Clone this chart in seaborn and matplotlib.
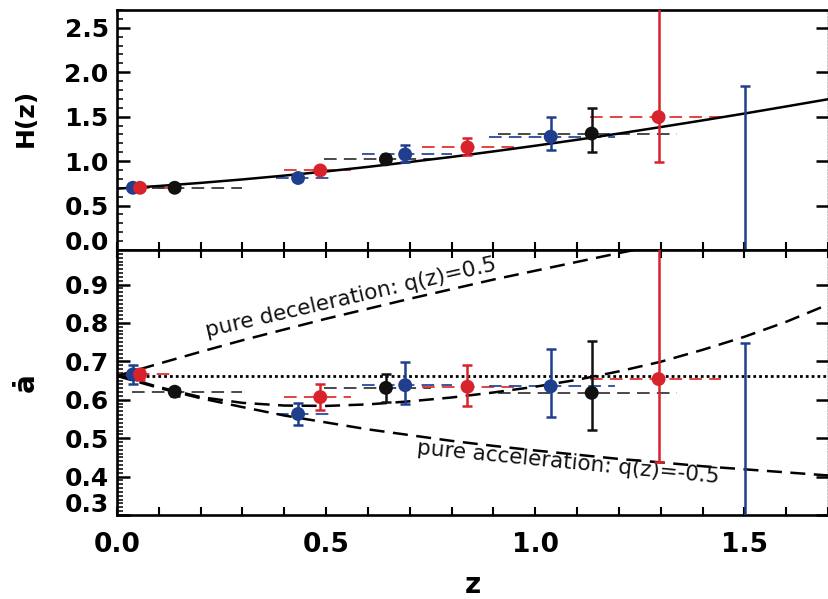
import numpy as np
import pandas as pd
import matplotlib
matplotlib.use("Agg")
import matplotlib.pyplot as plt
import matplotlib.transforms as mtransforms
from matplotlib.ticker import MultipleLocator, FixedLocator
import seaborn as sns

# ---- measurements: redshift bins from three surveys ----
survey = ["blue", "red", "black", "blue", "red", "black",
          "blue", "red", "blue", "black", "red", "blue"]
z_pts = [0.038, 0.055, 0.138, 0.433, 0.486, 0.643,
         0.689, 0.838, 1.037, 1.135, 1.295, 1.502]
bin_lo = [0.015, 0.0, 0.035, 0.38, 0.40, 0.495,
          0.585, 0.73, 0.89, 0.91, 1.13, np.nan]
bin_hi = [0.075, 0.13, 0.30, 0.51, 0.56, 0.75,
          0.80, 0.95, 1.19, 1.34, 1.445, np.nan]
show_marker = [True] * 11 + [False]

# Hubble rate H(z)
H_val = [0.70, 0.70, 0.70, 0.81, 0.895, 1.02, 1.075, 1.155, 1.275, 1.31, 1.495, 1.55]
H_lo = [0.02, 0.02, 0.02, 0.03, 0.03, 0.04, 0.09, 0.09, 0.15, 0.21, 0.50, 1.65]
H_hi = [0.02, 0.02, 0.02, 0.03, 0.03, 0.04, 0.105, 0.11, 0.22, 0.29, 1.40, 0.30]

# expansion velocity a-dot
ad_val = [0.666, 0.666, 0.621, 0.563, 0.607, 0.631, 0.638, 0.634, 0.635, 0.618, 0.654, 0.62]
ad_lo = [0.025, 0.015, 0.01, 0.028, 0.033, 0.036, 0.048, 0.051, 0.08, 0.097, 0.217, 0.40]
ad_hi = [0.025, 0.015, 0.01, 0.029, 0.033, 0.037, 0.061, 0.057, 0.097, 0.134, 0.50, 0.128]

# ---- model curves ----
z_grid = [0.0, 0.1, 0.2, 0.3, 0.4, 0.5, 0.6, 0.7, 0.8, 0.9,
          1.0, 1.1, 1.2, 1.3, 1.4, 1.5, 1.6, 1.7]
H_model = [0.690, 0.720, 0.755, 0.794, 0.837, 0.884, 0.935, 0.990, 1.047, 1.109,
           1.173, 1.240, 1.310, 1.383, 1.458, 1.535, 1.615, 1.696]
ad_model = [0.665, 0.633, 0.607, 0.592, 0.585, 0.584, 0.588, 0.596, 0.606, 0.619,
            0.634, 0.652, 0.674, 0.699, 0.730, 0.764, 0.803, 0.848]
ad_decel = [0.662, 0.694, 0.725, 0.755, 0.783, 0.811, 0.837, 0.863, 0.888, 0.913,
            0.936, 0.959, 0.982, 1.004, 1.026, 1.047, 1.067, 1.088]
ad_accel = [0.662, 0.631, 0.604, 0.581, 0.559, 0.541, 0.523, 0.508, 0.493, 0.480,
            0.468, 0.457, 0.446, 0.437, 0.427, 0.419, 0.411, 0.403]
ad_today = 0.662

palette = {"blue": "#1f3f8e", "red": "#d8222c", "black": "#111111"}
bin_colors = {"blue": "#2a4a9a", "red": "#e0352f", "black": "#3a3a3a"}
bar_colors = {"blue": "#1f3f8e", "red": "#d8222c", "black": "#111111"}

df = pd.DataFrame({"survey": survey, "z": z_pts, "lo": bin_lo, "hi": bin_hi,
                   "H": H_val, "H_lo": H_lo, "H_hi": H_hi,
                   "ad": ad_val, "ad_lo": ad_lo, "ad_hi": ad_hi,
                   "shown": show_marker})
curves = pd.DataFrame({"z": z_grid, "H": H_model, "ad": ad_model,
                       "decel": ad_decel, "accel": ad_accel})

sns.set_theme(style="ticks")
plt.rcParams.update({
    "font.family": ["DejaVu Sans"],
    "axes.linewidth": 1.9,
    "axes.edgecolor": "black",
    "axes.labelcolor": "black",
    "text.color": "black",
    "xtick.color": "black",
    "ytick.color": "black",
})

fig = plt.figure(figsize=(8.29, 5.99), dpi=100)
W, Hpx = 829.0, 599.0
ax_h = fig.add_axes([117 / W, 1 - 250 / Hpx, 711 / W, 240 / Hpx])
ax_a = fig.add_axes([117 / W, 1 - 515 / Hpx, 711 / W, 265 / Hpx], sharex=ax_h)

bin_ls = (0, (7, 4))
curve_ls = (0, (6, 3.4))


def draw_panel(ax, col, lo_col, hi_col):
    # horizontal bars show the redshift width of each bin
    for _, r in df.iterrows():
        if np.isfinite(r["lo"]):
            ax.hlines(r[col], r["lo"], r["hi"], colors=bin_colors[r["survey"]],
                      linestyles=bin_ls, linewidth=1.3, zorder=2)
    # vertical error bars
    for _, r in df.iterrows():
        ax.errorbar(r["z"], r[col], yerr=[[r[lo_col]], [r[hi_col]]], fmt="none",
                    ecolor=bar_colors[r["survey"]], elinewidth=1.8,
                    capsize=3.6, capthick=1.8, zorder=4)
    sns.scatterplot(data=df[df["shown"]], x="z", y=col, hue="survey",
                    palette=palette, s=100, linewidth=0, legend=False,
                    ax=ax, zorder=5)


# ---- upper panel: H(z) ----
draw_panel(ax_h, "H", "H_lo", "H_hi")
sns.lineplot(data=curves, x="z", y="H", color="black", linewidth=1.8,
             ax=ax_h, zorder=3, sort=False, estimator=None)

# ---- lower panel: a-dot(z) ----
draw_panel(ax_a, "ad", "ad_lo", "ad_hi")
for name in ["ad", "decel", "accel"]:
    sns.lineplot(data=curves, x="z", y=name, color="black", linewidth=1.8,
                 linestyle=curve_ls, ax=ax_a, zorder=3, sort=False, estimator=None)
ax_a.axhline(ad_today, color="black", linewidth=2.0, linestyle=(0, (1, 1.1)), zorder=3)

ax_a.text(0.560, 0.866, "pure deceleration: q(z)=0.5", rotation=13,
          rotation_mode="anchor", ha="center", va="center", fontsize=15.5,
          color="#111111")
ax_a.text(1.079, 0.437, "pure acceleration: q(z)=-0.5", rotation=-5.5,
          rotation_mode="anchor", ha="center", va="center", fontsize=15.5,
          color="#111111")

# ---- axes styling ----
ax_h.set_xlim(0, 1.70)
ax_h.set_ylim(0, 2.70)
ax_a.set_ylim(0.30, 0.99)

ax_h.yaxis.set_major_locator(FixedLocator([0.0, 0.5, 1.0, 1.5, 2.0, 2.5]))
ax_h.yaxis.set_minor_locator(MultipleLocator(0.1))
ax_a.yaxis.set_major_locator(FixedLocator([0.3, 0.4, 0.5, 0.6, 0.7, 0.8, 0.9]))
ax_a.yaxis.set_minor_locator(MultipleLocator(0.01))
ax_a.xaxis.set_major_locator(FixedLocator([0.0, 0.5, 1.0, 1.5]))
ax_a.xaxis.set_minor_locator(MultipleLocator(0.1))

for ax in (ax_h, ax_a):
    ax.tick_params(axis="y", which="major", direction="in", length=9, width=1.8,
                   left=True, right=True, labelsize=18, pad=6)
    ax.tick_params(axis="y", which="minor", direction="in", length=4.5, width=1.1,
                   left=True, right=False)
    ax.tick_params(axis="x", which="both", direction="in", length=6, width=1.5,
                   top=True, bottom=True)
    ax.spines["right"].set_linestyle((0, (1, 1.5)))
    ax.spines["right"].set_linewidth(1.0)
    ax.set_xlabel("")
    ax.set_ylabel("")

ax_h.tick_params(axis="x", which="both", labelbottom=False, top=False)
ax_a.tick_params(axis="x", which="major", labelsize=19, pad=12)

ax_h.set_yticklabels(["0.0", "0.5", "1.0", "1.5", "2.0", "2.5"], fontweight="bold", fontsize=18)
ax_a.set_yticklabels(["0.3", "0.4", "0.5", "0.6", "0.7", "0.8", "0.9"], fontweight="bold", fontsize=18)
ax_a.set_xticklabels(["0.0", "0.5", "1.0", "1.5"], fontweight="bold", fontsize=19)

# nudge the lowest labels up so they clear the panel edge
for ax, dy in ((ax_h, 10), (ax_a, 12)):
    t = ax.yaxis.get_major_ticks()[0].label1
    t.set_transform(t.get_transform() +
                    mtransforms.ScaledTranslation(0, dy / 100.0, fig.dpi_scale_trans))

ax_h.set_ylabel("H(z)", fontsize=18, fontweight="bold", va="center")
ax_h.yaxis.set_label_coords(-0.128, 0.55)
ax_a.set_ylabel("ȧ", fontsize=20, fontweight="bold", va="center")
ax_a.yaxis.set_label_coords(-0.128, 0.50)
ax_a.set_xlabel("z", fontsize=20, fontweight="bold")
ax_a.xaxis.set_label_coords(0.5, -0.21)

fig.savefig("out.png", dpi=100)
